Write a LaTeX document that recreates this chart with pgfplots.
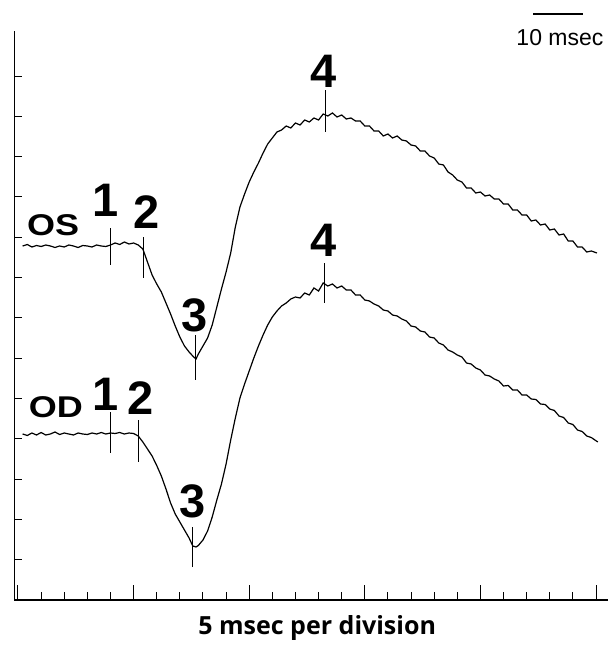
\documentclass[border=0pt]{standalone}
\usepackage{fontspec}
\setmainfont{Liberation Sans}
\newfontfamily\labelfont{Open Sans}
\usepackage{pgfplots}
\pgfplotsset{compat=1.18}

% x in msec, y in arbitrary units (1 unit = 1 scan pixel)
\pgfplotstableread{
t y
1 354
2 355.5
3 353
4 354.5
5 353.5
6 355
7 354
8 352.5
9 354
10 353
11 355
12 354
13 352.5
14 354.5
15 354
16 353
17 355
18 354
19 353.5
20 355
21 357
22 355.5
23 358
24 356
25 357
26 355
27 351
28 338
29 325
30 316
31 308
32 297
33 286
34 274
35 263
36 254
37 248
38 243
38.5 241
39 246
40 254
41 262
42 275
43 293
44 311
45 328
46 347
47 373
48 393
49 406
50 418
51 428
52 437
53 447
54 456
55 462
56 468
57 470
58 474
59 472
60 477
61 475
62 480
63 478
64 482
65 480
66 486
67 484
68 487
69 483
70 485
71 481
72 482
73 479
74 479
75 474
76 474
77 469
78 469
79 464
80 466
81 462
82 464
83 460
84 459
85 455
86 454
87 449
88 449
89 444
90 442
91 436
92 435
93 428
94 425
95 420
96 418
97 412
98 412
99 407
100 408
101 404
102 405
103 401
104 401
105 396
106 396
107 390
108 390
109 385
110 385
111 379
112 380
113 375
114 376
115 370
116 371
117 365
118 366
119 359
120 359
121 353
122 353
123 348
124 349
125.2 347
}\os

\pgfplotstableread{
t y
1 166
2 164.5
3 167
4 165
5 167.5
6 165
7 166
8 168
9 165.5
10 167
11 166
12 165
13 167
14 166
15 165.5
16 167
17 166
18 167.5
19 166
20 167
21 166.5
22 167.5
23 166
24 167
25 166.5
26 164
27 158
28 151
29 144
30 134.5
31 124
32 111
33 97
34 86
35 78
36 70
37 62
37.8 54
38.5 53
39 54.5
40 60
41 69
42 83
43 100
44 116
45 136
46 160
47 182
48 202
49 216
50 229
51 242
52 254
53 265
54 275
55 283
56 289
57 294
58 297
59 301
60 303
61 302
62 307
63 305
64 312
65 309
66 317
67 314
68 316
69 312
70 314
71 310
72 310
73 305
74 305
75 300
76 299
77 296
78 294
79 290
80 289
81 285
82 284
83 281
84 279
85 274
86 273
87 269
88 268
89 263
90 262
91 257
92 255
93 250
94 248
95 245
96 243
97 237
98 236
99 232
100 230
101 225
102 224
103 221
104 219
105 214
106 214.5
107 210
108 210
109 205
110 205
111 201
112 200.5
113 196
114 195.5
115 191
116 189.5
117 184
118 182.5
119 177
120 175.5
121 170
122 168.5
123 164
124 162.4
125.4 158
}\od

\begin{document}
\begin{tikzpicture}
\useasboundingbox (-14.3pt,-45pt) rectangle (598.7pt,600pt);
\begin{axis}[
  at={(0,0)}, anchor=south west,
  x=4.624pt, y=1pt,
  xmin=-0.8, xmax=127.5, ymin=0, ymax=569,
  axis x line=bottom, axis y line=left,
  axis line style={-, line width=1.6pt},
  tick align=inside,
  xtick={0,5,...,125}, xticklabels={},
  extra x ticks={0,25,...,125}, extra x tick labels={},
  extra x tick style={major tick length=15pt},
  ytick={40.3,80.6,...,525}, yticklabels={},
  major tick length=8pt,
  tick style={black, line width=1pt},
  clip=false,
]
\addplot[black, line width=1.2pt, mark=none] table[x=t, y=y] {\os};
\addplot[black, line width=1.2pt, mark=none] table[x=t, y=y] {\od};

% peak markers
\addplot[black, line width=1pt] coordinates {(19.9,335) (19.9,372)};
\addplot[black, line width=1pt] coordinates {(27.2,322) (27.2,363)};
\addplot[black, line width=1pt] coordinates {(38.3,220) (38.3,265)};
\addplot[black, line width=1pt] coordinates {(66.6,468) (66.6,510)};
\addplot[black, line width=1pt] coordinates {(20.1,147) (20.1,188)};
\addplot[black, line width=1pt] coordinates {(26.0,138) (26.0,180)};
\addplot[black, line width=1pt] coordinates {(37.8,33) (37.8,73)};
\addplot[black, line width=1pt] coordinates {(66.2,297) (66.2,337)};

% scale bar
\addplot[black, line width=1.2pt] coordinates {(111.4,586) (122.2,586)};

\begin{scope}[font=\fontsize{47}{47}\selectfont\bfseries]
\node at (axis cs:19.0,400) {1};
\node at (axis cs:27.7,388) {2};
\node at (axis cs:38.1,285) {3};
\node at (axis cs:66.1,529) {4};
\node at (axis cs:19.0,206) {1};
\node at (axis cs:26.4,202) {2};
\node at (axis cs:37.8,99) {3};
\node at (axis cs:66.0,360) {4};
\end{scope}
\node[font=\fontsize{30}{30}\selectfont\bfseries] at (axis cs:7.6,375) {\scalebox{1.2}[1]{OS}};
\node[font=\fontsize{30}{30}\selectfont\bfseries] at (axis cs:8.2,193) {\scalebox{1.2}[1]{OD}};
\node[font=\fontsize{23}{23}\selectfont] at (axis cs:117.2,562) {10 msec};
\node[font=\fontsize{25}{25}\selectfont\labelfont\bfseries] at (axis cs:64.7,-28) {5 msec per division};
\end{axis}
\end{tikzpicture}
\end{document}
